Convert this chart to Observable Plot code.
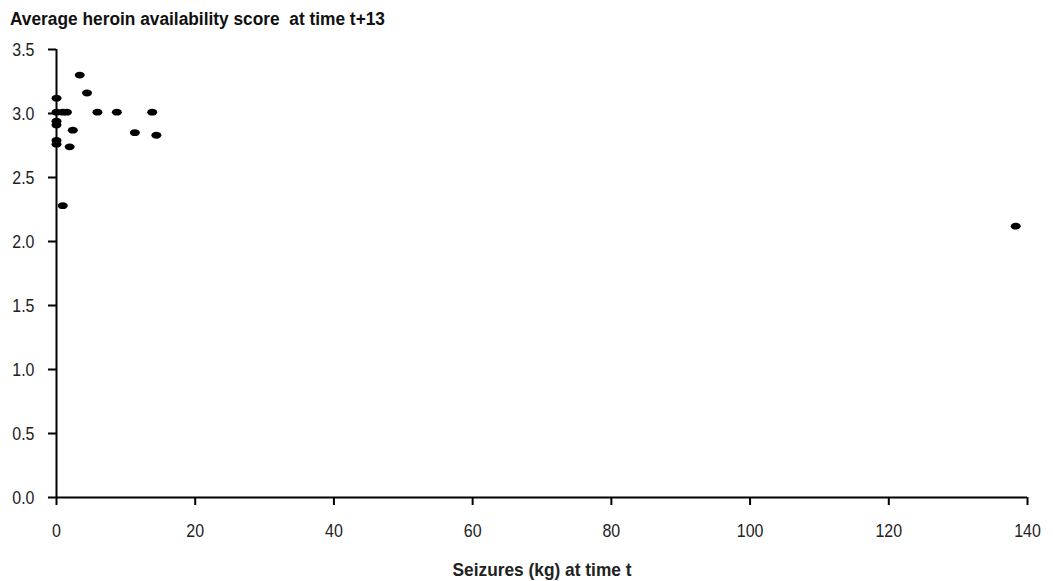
<!DOCTYPE html>
<html>
<head>
<meta charset="utf-8">
<script src="https://cdn.jsdelivr.net/npm/d3@7"></script>
<script src="https://cdn.jsdelivr.net/npm/@observablehq/plot@0.6"></script>
<style>
  body { margin: 0; background: #fff; font-family: "Liberation Sans", Arial, sans-serif; }
  #title { height: 20px; padding: 9px 0 0 10px; font-size: 18px; font-weight: bold; line-height: 20px; white-space: pre; color: #111; }
  #title span { display: inline-block; transform-origin: 0 50%; }
  #chart g[aria-label="x-axis label"] text { font-weight: bold; }
</style>
</head>
<body>
<div id="title"><span></span></div>
<div id="chart"></div>
<script>
// Seizures (kg) at time t
const seizuresKg = [3.35, 4.4, 0, 0, 0.9, 1.5, 5.9, 8.7, 13.8, 0, 0, 2.35, 11.3, 14.4, 0, 0, 1.9, 0.9, 138.3];
// Average heroin availability score at time t+13
const availability = [3.30, 3.16, 3.12, 3.01, 3.01, 3.01, 3.01, 3.01, 3.01, 2.94, 2.91, 2.87, 2.85, 2.83, 2.79, 2.76, 2.74, 2.28, 2.12];
const xTicks = [0, 20, 40, 60, 80, 100, 120, 140];
const yTicks = [0, 0.5, 1.0, 1.5, 2.0, 2.5, 3.0, 3.5];
const titleText = "Average heroin availability score  at time t+13";
const xLabel = "Seizures (kg) at time t";

const points = seizuresKg.map((x, i) => ({x, y: availability[i]}));

// Excel-style elliptical marker
const k = 0.5523;
const ellipse = {
  draw(context) {
    const rx = 5, ry = 3.4;
    context.moveTo(rx, 0);
    context.bezierCurveTo(rx, ry * k, rx * k, ry, 0, ry);
    context.bezierCurveTo(-rx * k, ry, -rx, ry * k, -rx, 0);
    context.bezierCurveTo(-rx, -ry * k, -rx * k, -ry, 0, -ry);
    context.bezierCurveTo(rx * k, -ry, rx, -ry * k, rx, 0);
    context.closePath();
  }
};

const chart = Plot.plot({
  width: 1053,
  height: 552,
  marginTop: 20,
  marginBottom: 84,
  marginLeft: 56,
  marginRight: 26,
  style: { fontSize: "19px", fontFamily: "'Liberation Sans', Arial, sans-serif", color: "black", background: "white" },
  x: { domain: [0, 140] },
  y: { domain: [0, 3.5] },
  marks: [
    Plot.axisY({ ticks: yTicks, tickFormat: d3.format(".1f"), tickSize: 8, tickPadding: 14, strokeWidth: 2, label: null, fill: "#222" }),
    Plot.axisX({ ticks: xTicks, tickFormat: d => String(d), tickSize: 8, tickPadding: 18, strokeWidth: 2, label: xLabel, labelAnchor: "center", labelOffset: 78, labelArrow: "none", fill: "#222" }),
    Plot.ruleX([0], { stroke: "black", strokeWidth: 2 }),
    Plot.ruleY([0], { stroke: "black", strokeWidth: 2 }),
    Plot.dot(points, { x: "x", y: "y", symbol: ellipse, fill: "black", stroke: "none" })
  ]
});
document.getElementById("chart").appendChild(chart);

// Title, condensed to mimic the narrow typeface of the original
const span = document.querySelector("#title span");
span.textContent = titleText;
const tw = span.getBoundingClientRect().width;
span.style.transform = `scaleX(${375 / tw})`;

// Condense SVG texts (narrow typeface of the original)
chart.querySelectorAll('g[aria-label="x-axis tick label"] text, g[aria-label="y-axis tick label"] text').forEach(t => {
  const w = t.getComputedTextLength();
  t.setAttribute("textLength", (w * 0.84).toFixed(1));
  t.setAttribute("lengthAdjust", "spacingAndGlyphs");
});
chart.querySelectorAll('g[aria-label="x-axis label"] text').forEach(t => {
  t.setAttribute("textLength", "179");
  t.setAttribute("lengthAdjust", "spacingAndGlyphs");
});
</script>
</body>
</html>
